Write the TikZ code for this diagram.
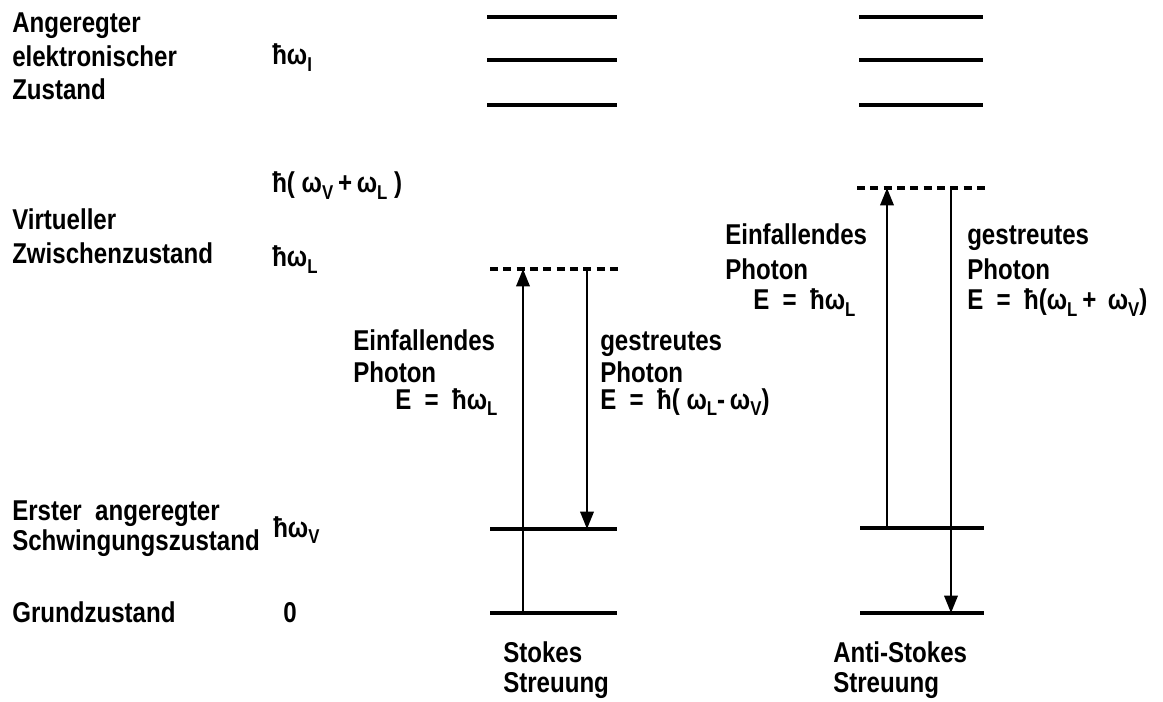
\documentclass[tikz,border=0pt]{standalone}
\usepackage{fontspec}
\setmainfont[FakeStretch=0.84]{Liberation Sans}
\usetikzlibrary{arrows.meta}
\newcommand{\lsub}[1]{\raisebox{-0.4ex}{\fontsize{15}{15}\selectfont #1}}
\tikzset{
  txt/.style={anchor=base west, inner sep=0pt, font=\fontsize{21.5}{21.5}\selectfont\bfseries},
  level/.style={line width=2.8pt},
  virt/.style={line width=2.6pt, dash pattern=on 6pt off 4pt},
  trans/.style={line width=1.8pt, -{Triangle[length=13pt, width=10pt]}}
}
\begin{document}
\begin{tikzpicture}[x=0.75pt, y=-0.75pt]
\useasboundingbox (0,0) rectangle (1163,702);
% left labels
\node[txt] (a1) at (12,33) {Angeregter};
\node[txt] (a2) at (12,67) {elektronischer};
\node[txt] (a3) at (12,100) {Zustand};
\node[txt] (v1) at (12,230) {Virtueller};
\node[txt] (v2) at (12,263) {Zwischenzustand};
\node[txt] (e1) at (12,520) {Erster\ \ angeregter};
\node[txt] (e2) at (12,550) {Schwingungszustand};
\node[txt] (g1) at (12,622) {Grundzustand};
% energy column
\node[txt] (hI) at (272,65) {ħω\lsub{I}};
\node[txt] (hVL) at (272,193) {ħ( ω\lsub{V}\,+\,ω\lsub{L} )};
\node[txt] (hL) at (272,267) {ħω\lsub{L}};
\node[txt] (hV) at (273,537) {ħω\lsub{V}};
\node[txt] (h0) at (283,622) {0};
% Stokes levels
\draw[level] (487,17) -- (617,17);
\draw[level] (487,60) -- (617,60);
\draw[level] (487,105) -- (617,105);
\coordinate (sVa) at (490,269); \coordinate (sVb) at (618,269);
\draw[virt] (sVa) -- (sVb);
\draw[level] (490,529) -- (617,529);
\draw[level] (490,613) -- (617,613);
\coordinate (sUp0) at (523,613); \coordinate (sUp1) at (523,269);
\coordinate (sDn0) at (587,269); \coordinate (sDn1) at (587,529);
\draw[trans] (sUp0) -- (sUp1);
\draw[trans] (sDn0) -- (sDn1);
% Anti-Stokes levels
\draw[level] (859,17) -- (983,17);
\draw[level] (859,60) -- (983,60);
\draw[level] (859,105) -- (983,105);
\coordinate (aVa) at (857,188); \coordinate (aVb) at (987,188);
\draw[virt] (aVa) -- (aVb);
\draw[level] (860,528) -- (984,528);
\draw[level] (860,613) -- (984,613);
\coordinate (aUp0) at (887,528); \coordinate (aUp1) at (887,188);
\coordinate (aDn0) at (951,188); \coordinate (aDn1) at (951,613);
\draw[trans] (aUp0) -- (aUp1);
\draw[trans] (aDn0) -- (aDn1);
% Stokes labels
\node[txt] (s1) at (353,350) {Einfallendes};
\node[txt] (s2) at (353,382) {Photon};
\node[txt] (s3) at (395,409) {E\ \ =\ \ ħω\lsub{L}};
\node[txt] (s4) at (600,350) {gestreutes};
\node[txt] (s5) at (600,382) {Photon};
\node[txt] (s6) at (600,409) {E\ \ =\ \ ħ( ω\lsub{L}-\,ω\lsub{V})};
% Anti-Stokes labels
\node[txt] (t1) at (725,245) {Einfallendes};
\node[txt] (t2) at (725,280) {Photon};
\node[txt] (t3) at (753,310) {E\ \ =\ \ ħω\lsub{L}};
\node[txt] (t4) at (967,245) {gestreutes};
\node[txt] (t5) at (967,280) {Photon};
\node[txt] (t6) at (967,310) {E\ \ =\ \ ħ(ω\lsub{L}\,+\ \,ω\lsub{V})};
% captions
\node[txt] (c1) at (503,662) {Stokes};
\node[txt] (c2) at (503,692) {Streuung};
\node[txt] (c3) at (833,662) {Anti-Stokes};
\node[txt] (c4) at (833,692) {Streuung};
\end{tikzpicture}
\end{document}
